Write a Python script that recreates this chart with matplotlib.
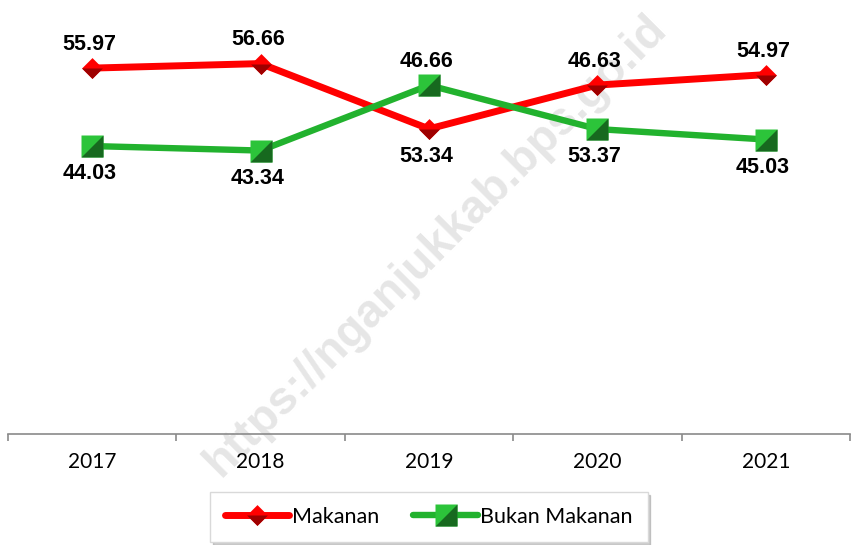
import matplotlib.pyplot as plt
from matplotlib.lines import Line2D
from matplotlib.path import Path

years = ["2017", "2018", "2019", "2020", "2021"]
makanan = [55.97, 56.66, 46.66, 53.37, 54.97]
bukan_makanan = [44.03, 43.34, 53.34, 46.63, 45.03]
# labels as printed on the chart (2019/2020 swapped between series)
makanan_labels = ["55.97", "56.66", "53.34", "46.63", "54.97"]
bukan_labels = ["44.03", "43.34", "46.66", "53.37", "45.03"]

plt.rcParams["font.family"] = ["Lato", "DejaVu Sans"]
BOLD_FONT = ["Liberation Sans", "DejaVu Sans"]

RED = "#ff0000"
RED_DARK = "#9e0000"
GREEN = "#22b22e"
GREEN_LIGHT = "#2cc43a"
GREEN_DARK = "#17691f"
AXIS_GREY = "#8a8a8a"

diamond = Path([(0, 1), (1, 0), (0, -1), (-1, 0), (0, 1)], closed=True)
diamond_low = Path([(1, 0), (0, -1), (-1, 0), (1, 0)], closed=True)
square = Path([(-1, -1), (1, -1), (1, 1), (-1, 1), (-1, -1)], closed=True)
square_low = Path([(-1, -1), (1, -1), (1, 1), (-1, -1)], closed=True)


def draw_series(ax, xs, ys, color, face, shade, full, half, ms, lw):
    ax.plot(xs, ys, color=color, lw=lw, solid_capstyle="round", zorder=2)
    ax.plot(xs, ys, ls="none", marker=full, ms=ms, mfc=face, mec="none", zorder=3)
    ax.plot(xs, ys, ls="none", marker=half, ms=ms, mfc=shade, mec="none", zorder=3)


def main() -> None:
    fig = plt.figure(figsize=(8.54, 5.45), dpi=100)
    ax = fig.add_axes([8 / 854, 1 - 433.5 / 545, 842 / 854, 433.5 / 545])
    ax.set_facecolor("none")

    fig.text(0.51, 0.55, "https://nganjukkab.bps.go.id", rotation=45,
             fontsize=33.5, fontweight="bold", family=BOLD_FONT, color="#e6e6e6",
             ha="center", va="center", rotation_mode="anchor", zorder=-1)

    xs = list(range(len(years)))
    draw_series(ax, xs, makanan, RED, RED, RED_DARK, diamond, diamond_low, 15, 5)
    draw_series(ax, xs, bukan_makanan, GREEN, GREEN_LIGHT, GREEN_DARK, square, square_low, 16, 4.6)

    for i in xs:
        red_up = makanan[i] > bukan_makanan[i]
        ax.annotate(makanan_labels[i], (i, makanan[i]),
                    xytext=(-2, 17 if red_up else -20), textcoords="offset points",
                    ha="center", va="center", fontsize=15.5, fontweight="bold",
                    family=BOLD_FONT, zorder=4)
        ax.annotate(bukan_labels[i], (i, bukan_makanan[i]),
                    xytext=(-2, -20 if red_up else 17), textcoords="offset points",
                    ha="center", va="center", fontsize=15.5, fontweight="bold",
                    family=BOLD_FONT, zorder=4)

    ax.set_xlim(-0.5, len(years) - 0.5)
    ax.set_ylim(0, 66.4)
    for side in ["left", "right", "top"]:
        ax.spines[side].set_visible(False)
    ax.spines["bottom"].set_color(AXIS_GREY)
    ax.spines["bottom"].set_linewidth(1.2)
    ax.set_yticks([])

    ax.set_xticks([i - 0.5 for i in range(len(years) + 1)])
    ax.set_xticklabels([])
    ax.tick_params(axis="x", which="major", length=5, width=1.2, color=AXIS_GREY)
    ax.set_xticks(xs, minor=True)
    ax.set_xticklabels(years, minor=True)
    ax.tick_params(axis="x", which="minor", length=0, pad=13, labelsize=15)

    red_handle = (Line2D([], [], color=RED, lw=5, solid_capstyle="round"),
                  Line2D([], [], ls="none", marker=diamond, ms=15, mfc=RED, mec="none"),
                  Line2D([], [], ls="none", marker=diamond_low, ms=15, mfc=RED_DARK, mec="none"))
    green_handle = (Line2D([], [], color=GREEN, lw=4.6, solid_capstyle="round"),
                    Line2D([], [], ls="none", marker=square, ms=16, mfc=GREEN_LIGHT, mec="none"),
                    Line2D([], [], ls="none", marker=square_low, ms=16, mfc=GREEN_DARK, mec="none"))
    leg = ax.legend([red_handle, green_handle], ["Makanan", "Bukan Makanan"],
                    loc="center", bbox_to_anchor=(0.502, 0.0514),
                    bbox_transform=fig.transFigure, ncol=2, fontsize=15.5,
                    handlelength=3.0, handletextpad=0.1, columnspacing=1.6,
                    borderpad=0.7, frameon=True, fancybox=False, numpoints=1,
                    shadow={"color": "#9a9a9a", "alpha": 0.5})
    leg.get_frame().set_edgecolor("#d9d9d9")
    leg.get_frame().set_linewidth(1.0)

    fig.savefig("out.png", dpi=100)
    plt.close(fig)


if __name__ == "__main__":
    main()
